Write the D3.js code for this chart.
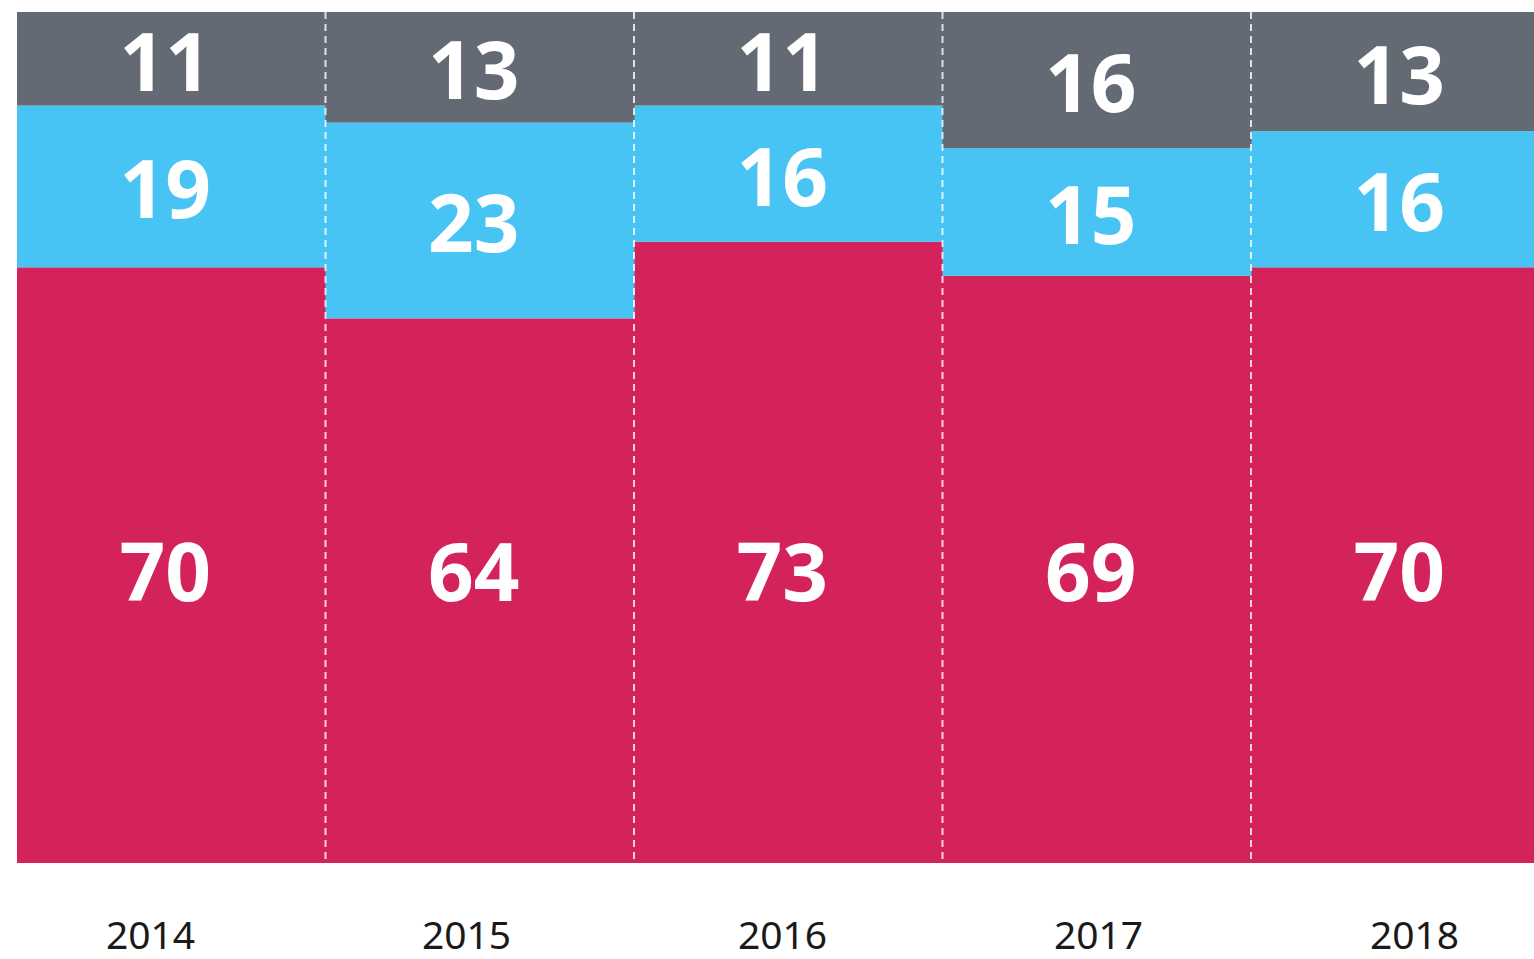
<!DOCTYPE html>
<html>
<head>
<meta charset="utf-8">
<script src="https://cdn.jsdelivr.net/npm/d3@7"></script>
<style>
  body { margin: 0; background: #fff; overflow: hidden; }
  text { font-family: "Noto Sans", sans-serif; }
</style>
</head>
<body>
<div id="wrapper"></div>
<script>

const years = ["2014", "2015", "2016", "2017", "2018"]
const redValues = [70, 64, 73, 69, 70]
const blueValues = [19, 23, 16, 15, 16]
const greyValues = [11, 13, 11, 16, 13]
const seriesKeys = ["red", "blue", "grey"]
const seriesColors = ["#d4235b", "#47c3f4", "#636a74"]

function drawChart() {

    let dimensions = {
        width: 1534,
        height: 959,
        margin: { top: 12, bottom: 96, left: 17 },
        colWidth: 308.5,
    }

    const rows = years.map((y, i) => ({
        year: y, red: redValues[i], blue: blueValues[i], grey: greyValues[i]
    }))

    const svg = d3.select("#wrapper")
        .append("svg")
        .attr("width", dimensions.width)
        .attr("height", dimensions.height)

    const x = d3.scaleBand()
        .domain(years)
        .range([dimensions.margin.left, dimensions.margin.left + dimensions.colWidth * years.length])
        .padding(0)

    const y = d3.scaleLinear()
        .domain([0, 100])
        .range([dimensions.height - dimensions.margin.bottom, dimensions.margin.top])

    const stacked = d3.stack().keys(seriesKeys)(rows)

    // top of a segment; the last layer fills up to 100
    const top = d => y(d.last ? Math.max(d[1], 100) : d[1])

    // bars
    const layers = svg.append("g")
        .selectAll("g")
        .data(stacked)
        .enter().append("g")
        .attr("fill", (d, i) => seriesColors[i])

    layers.selectAll("rect")
        .data(d => d.map(p => Object.assign(p, { key: d.key, first: d.index === 0, last: d.index === seriesKeys.length - 1 })))
        .enter().append("rect")
        .attr("x", d => x(d.data.year))
        .attr("width", x.bandwidth() + 0.5)
        .attr("y", d => top(d))
        .attr("height", d => y(d[0]) - top(d))

    // dashed separators
    svg.append("g")
        .selectAll("line")
        .data(years.slice(1))
        .enter().append("line")
        .attr("x1", d => x(d))
        .attr("x2", d => x(d))
        .attr("y1", y(100))
        .attr("y2", y(0))
        .attr("stroke", "#ffffff")
        .attr("stroke-opacity", 0.8)
        .attr("stroke-width", 2)
        .attr("stroke-dasharray", "7,5")

    // value labels (bottom layer labels sit on one common level)
    layers.selectAll("text")
        .data(d => d)
        .enter().append("text")
        .attr("x", d => x(d.data.year) + x.bandwidth() / 2 - 6)
        .attr("y", d => d.first ? y(34.5) : (y(d[0]) + top(d)) / 2)
        .attr("dy", 32)
        .attr("text-anchor", "middle")
        .attr("fill", "#ffffff")
        .attr("font-size", 80)
        .attr("font-weight", 700)
        .text(d => d.data[d.key])

    // year axis
    const xYears = d3.scalePoint()
        .domain(years)
        .range([150, 1414])

    const axis = svg.append("g")
        .attr("transform", `translate(0, ${dimensions.height - dimensions.margin.bottom})`)
        .call(d3.axisBottom(xYears).tickSize(0).tickPadding(0))

    axis.select(".domain").remove()
    axis.selectAll("text")
        .attr("y", 86)
        .attr("dy", 0)
        .attr("font-size", 39)
        .attr("fill", "#1a1a1a")
        .style("font-family", "'Noto Sans', sans-serif")
}
drawChart()
</script>
</body>
</html>
